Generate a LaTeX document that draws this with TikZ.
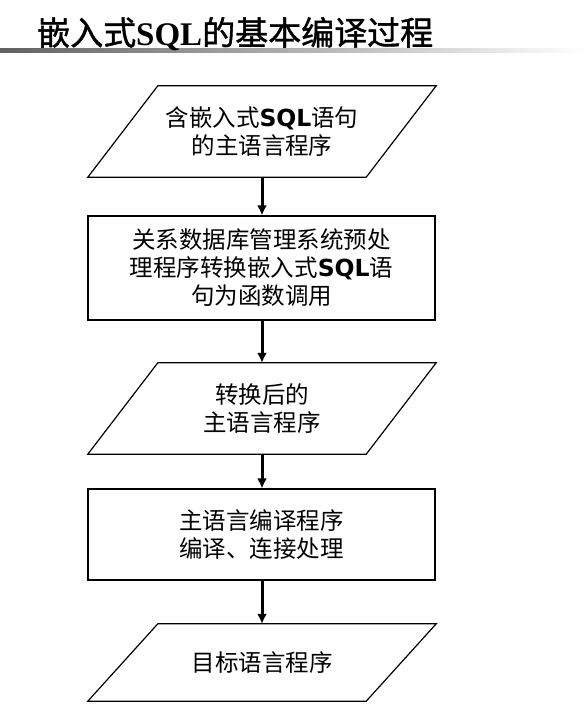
\documentclass[tikz,border=0pt]{standalone}
\usepackage{fontspec}
\setmainfont{Noto Sans CJK SC}
\newfontfamily\titlecjk{Noto Sans CJK SC}[FakeBold=1.2]
\newfontfamily\sqlsans{DejaVu Sans}
\newfontfamily\sqlserif{Liberation Serif}
\usetikzlibrary{arrows.meta}

\begin{document}
\begin{tikzpicture}[x=1pt, y=-1pt, >={Latex[length=10pt,width=10pt]},
  every node/.style={font=\fontsize{23.5}{28}\selectfont, align=center, inner sep=0pt},
  procbox/.style={draw, line width=1.2pt, minimum width=347pt},
  iobox/.style={minimum width=278pt},
  flow/.style={->, line width=3pt}]
  \useasboundingbox (0,0) rectangle (585,721);
  % slant of the input/output boxes
  \def\slant{35pt}

  % title with the shaded rule under it
  \shade[left color=black!62, right color=white] (0,48) rectangle (585,52);
  \node[anchor=base west, font=\titlecjk\fontsize{33}{33}\selectfont] (title) at (37,45) {嵌入式{\sqlserif\bfseries SQL}的基本编译过程};

  \node[iobox, minimum height=91pt] (src) at (262,131.5) {含嵌入式{\sqlsans\bfseries SQL}语句\\的主语言程序};
  \node[procbox, minimum height=104pt] (conv) at (261.5,268) {关系数据库管理系统预处\\理程序转换嵌入式{\sqlsans\bfseries SQL}语\\句为函数调用};
  \node[iobox, minimum height=91pt] (mid) at (262,408.5) {转换后的\\主语言程序};
  \node[procbox, minimum height=91pt] (comp) at (261.5,534.5) {主语言编译程序\\编译、连接处理};
  \node[iobox, minimum height=77pt] (tgt) at (262,662.5) {目标语言程序};

  % parallelograms round the data nodes
  \foreach \n in {src,mid,tgt}
    \draw[line width=1.2pt] ([xshift=\slant]\n.north west) -- ([xshift=\slant]\n.north east)
      -- ([xshift=-\slant]\n.south east) -- ([xshift=-\slant]\n.south west) -- cycle;

  \draw[flow] (src.south) -- (src.south |- conv.north);
  \draw[flow] (conv.south -| mid.north) -- (mid.north);
  \draw[flow] (mid.south) -- (mid.south |- comp.north);
  \draw[flow] (comp.south -| tgt.north) -- (tgt.north);
\end{tikzpicture}
\end{document}
